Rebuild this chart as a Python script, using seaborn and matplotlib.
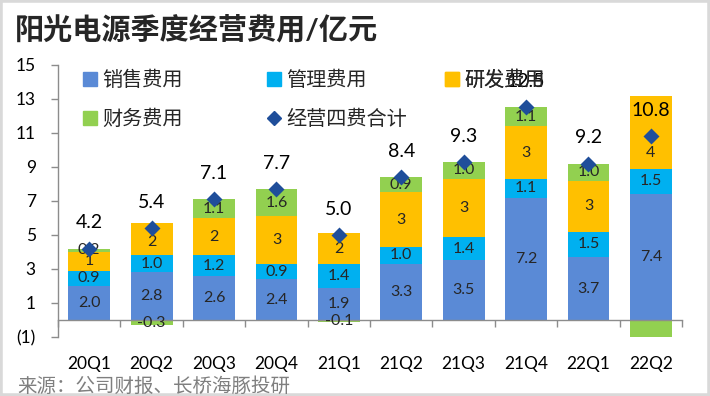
# ==============================
# SUNGROW QUARTERLY OPERATING EXPENSES - STACKED BAR
# ==============================
import numpy as np
import matplotlib
matplotlib.use("Agg")
import matplotlib.pyplot as plt
from matplotlib.lines import Line2D
from matplotlib.patches import Rectangle
from matplotlib.ticker import FuncFormatter
import seaborn as sns

# ==============================
# 1. DATA (亿元)
# ==============================
quarters = ["20Q1", "20Q2", "20Q3", "20Q4", "21Q1", "21Q2", "21Q3", "21Q4", "22Q1", "22Q2"]
sales = [2.0, 2.8, 2.6, 2.4, 1.9, 3.3, 3.5, 7.2, 3.7, 7.4]
admin = [0.9, 1.0, 1.2, 0.9, 1.4, 1.0, 1.4, 1.1, 1.5, 1.5]
rnd = [1.1, 1.9, 2.2, 2.8, 1.8, 3.2, 3.4, 3.1, 3.0, 4.3]
finance = [0.2, -0.3, 1.1, 1.6, -0.1, 0.9, 1.0, 1.1, 1.0, -2.4]
total = [4.2, 5.4, 7.1, 7.7, 5.0, 8.4, 9.3, 12.5, 9.2, 10.8]

names = ["销售费用", "管理费用", "研发费用", "财务费用", "经营四费合计"]
colors = ["#5A8AD6", "#00B0F0", "#FFC000", "#92D050", "#1F4E9A"]

# ==============================
# 2. STYLE
# ==============================
sns.set_theme(style="white")
plt.rcParams["font.family"] = ["Lato", "Noto Sans CJK SC"]

fig, ax = plt.subplots(figsize=(7.1, 3.96), dpi=100)
fig.subplots_adjust(left=0.0817, right=0.9606, bottom=0.149, top=0.836)
YMIN, YMAX = -1, 15

# ==============================
# 3. STACKED BARS (drawn back to front)
# ==============================
s = np.array(sales)
a = np.array(admin)
r = np.array(rnd)
f = np.array(finance)
top_fin = np.where(f > 0, s + a + r + f, f)

layers = [top_fin, s + a + r, s + a, s]
layer_colors = [colors[3], colors[2], colors[1], colors[0]]
for h, c in zip(layers, layer_colors):
    sns.barplot(x=quarters, y=h, color=c, saturation=1, width=0.67,
                errorbar=None, linewidth=0, ax=ax)

sns.pointplot(x=quarters, y=total, color=colors[4], markers="D",
              linestyles="none", markersize=6.5, errorbar=None, ax=ax, zorder=5)

# segment labels (a label whose centre falls off the axis is not shown, like Excel)
lab_kw = dict(ha="center", va="center", fontsize=11.5, color="#262626")
for i in range(len(quarters)):
    fy = s[i] + a[i] + r[i] + f[i] / 2 if f[i] > 0 else f[i] / 2
    # with a negative finance cost Excel centres the R&D label on the net stack
    ry = s[i] + a[i] + r[i] / 2 if f[i] > 0 else (s[i] + a[i] + total[i]) / 2
    segs = [(s[i] / 2, f"{s[i]:.1f}"),
            (s[i] + a[i] / 2, f"{a[i]:.1f}"),
            (ry, f"{r[i]:.0f}"),
            (fy, f"{f[i]:.1f}")]
    for y, txt in segs:
        if YMIN < y < YMAX:
            ax.text(i, y, txt, **lab_kw)
    ax.annotate(f"{total[i]:.1f}", (i, total[i]), xytext=(0, 18.5),
                textcoords="offset points", ha="center", va="center",
                fontsize=14, color="black")

# ==============================
# 4. AXES
# ==============================
ax.set_xlim(-0.5, 9.5)
ax.set_ylim(YMIN, YMAX)
ax.set_yticks(range(-1, 16, 2))
ax.yaxis.set_major_formatter(FuncFormatter(lambda v, p: f"({abs(v):.0f})" if v < 0 else f"{v:.0f}"))
ax.set_xlabel("")
ax.set_ylabel("")

for side in ["top", "right"]:
    ax.spines[side].set_visible(False)
ax.spines["bottom"].set_position(("data", 0))
for side in ["left", "bottom"]:
    ax.spines[side].set_color("#8C8C8C")
    ax.spines[side].set_linewidth(1)

ax.set_xticks(np.arange(-0.5, 10, 1), minor=True)
ax.tick_params(axis="x", which="major", length=0, pad=26, labelsize=12.5, colors="black")
ax.tick_params(axis="x", which="minor", length=5, width=1, color="#8C8C8C", direction="out", bottom=True)
ax.tick_params(axis="y", length=5, width=1, color="#8C8C8C", direction="out", left=True,
               pad=11, labelsize=12.5, labelcolor="black")

# ==============================
# 5. LEGEND (three fixed columns like Excel)
# ==============================
def handle(c, m):
    ms = 10 if m == "s" else 7.5
    return Line2D([], [], marker=m, color=c, linestyle="none", markersize=ms)

columns = [
    (0.040, [0, 3]),
    (0.335, [1, 4]),
    (0.620, [2]),
]
for x0, idx in columns:
    hs = [handle(colors[k], "D" if k == 4 else "s") for k in idx]
    lg = ax.legend(hs, [names[k] for k in idx], loc="upper left",
                   bbox_to_anchor=(x0, 0.982), frameon=False, fontsize=14.5,
                   handlelength=0.7, handletextpad=0.25, labelspacing=0.95,
                   borderpad=0, borderaxespad=0)
    ax.add_artist(lg)

# ==============================
# 6. TITLE, SOURCE, FRAME
# ==============================
fig.text(0.021, 1 - 29 / 396, "阳光电源季度经营费用/亿元", fontsize=21,
         fontweight="bold", va="center", ha="left")
fig.text(0.025, 1 - 386 / 396, "来源：公司财报、长桥海豚投研", fontsize=14,
         color="#7F7F7F", va="center", ha="left")
fig.patches.append(Rectangle((0, 0), 1, 1, transform=fig.transFigure, fill=False,
                             edgecolor="#D9D9D9", linewidth=4))

fig.savefig("out.png", dpi=100)
